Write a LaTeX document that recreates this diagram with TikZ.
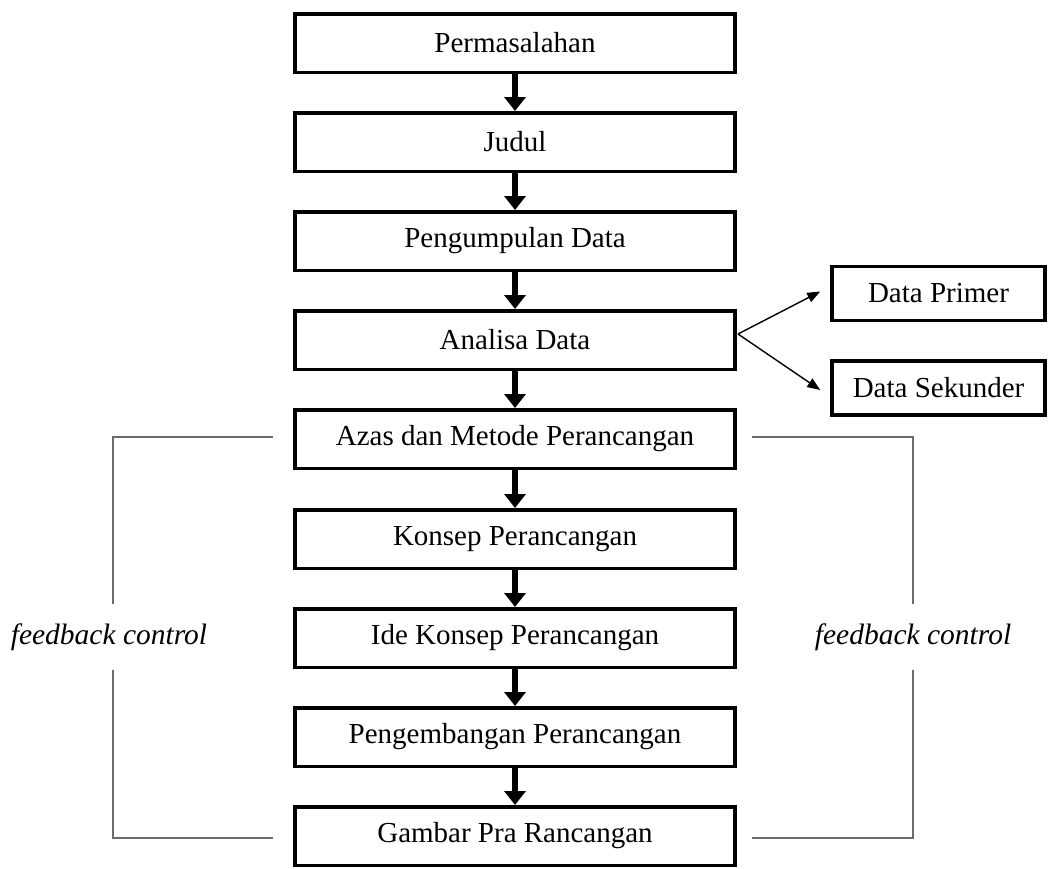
\documentclass[tikz,border=0pt]{standalone}
\usepackage{fontspec}
\setmainfont{Liberation Serif}
\usetikzlibrary{arrows.meta}
\begin{document}
\begin{tikzpicture}[x=1pt,y=-1pt,
  mainbox/.style={draw=black, line width=3.5pt, minimum width=440pt, minimum height=58.5pt, inner sep=0pt, font=\fontsize{29}{31}\selectfont},
  sidebox/.style={draw=black, line width=3.5pt, minimum width=213pt, minimum height=54pt, inner sep=0pt, font=\fontsize{29}{31}\selectfont},
  flowarrow/.style={line width=6.5pt, -{Triangle[width=21pt,length=14pt]}},
  thinarrow/.style={line width=1.4pt, -{Triangle[width=10pt,length=13pt]}},
  fbline/.style={draw=black!58, line width=1.6pt},
  fblabel/.style={font=\fontsize{29.5}{31}\selectfont\itshape, minimum height=65pt, inner sep=0pt}
]
\useasboundingbox (0,0) rectangle (1049,868);
\node[mainbox] (n1) at (515,43) {Permasalahan};
\node[mainbox] (n2) at (515,142) {Judul};
\node[mainbox] (n3) at (515,241) {Pengumpulan Data};
\node[mainbox] (n4) at (515,340) {Analisa Data};
\node[mainbox] (n5) at (515,439) {Azas dan Metode Perancangan};
\node[mainbox] (n6) at (515,539) {Konsep Perancangan};
\node[mainbox] (n7) at (515,638) {Ide Konsep Perancangan};
\node[mainbox] (n8) at (515,737) {Pengembangan Perancangan};
\node[mainbox] (n9) at (515,836) {Gambar Pra Rancangan};

\node[sidebox] (dp) at (938.5,293.5) {Data Primer};
\node[sidebox] (ds) at (938.5,388) {Data Sekunder};

\foreach \a/\b in {n1/n2,n2/n3,n3/n4,n4/n5,n5/n6,n6/n7,n7/n8,n8/n9}
  \draw[flowarrow] (\a.south) -- (\b.north);

\coordinate (as) at (738,334);
\draw[thinarrow] (as) -- ([xshift=-10pt,yshift=2pt]dp.west);
\draw[thinarrow] (as) -- ([xshift=-10pt,yshift=-2pt]ds.west);

\node[fblabel] (fbL) at (109,637) {feedback control};
\node[fblabel] (fbR) at (913,637) {feedback control};

\coordinate (l1) at (273,437);
\coordinate (l2) at (273,838);
\coordinate (r1) at (752,437);
\coordinate (r2) at (752,838);
\draw[fbline] (l1) -| ([xshift=4pt]fbL.north);
\draw[fbline] ([xshift=4pt]fbL.south) |- (l2);
\draw[fbline] (r1) -| (fbR.north);
\draw[fbline] (fbR.south) |- (r2);
\end{tikzpicture}
\end{document}
